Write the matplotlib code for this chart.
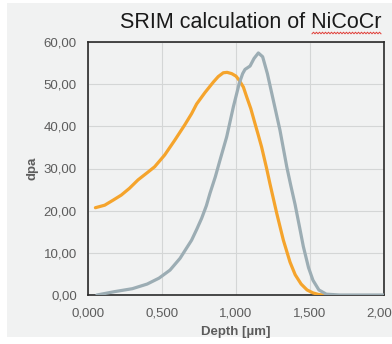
import matplotlib
matplotlib.use("Agg")
import matplotlib.pyplot as plt
from matplotlib.patches import Rectangle
import matplotlib.transforms as mtransforms
import numpy as np

title = "SRIM calculation of NiCoCr"
x_label = "Depth [µm]"
y_label = "dpa"
x_ticks = [0.0, 0.5, 1.0, 1.5, 2.0]
x_tick_labels = ["0,000", "0,500", "1,000", "1,500", "2,00"]
y_ticks = [0, 10, 20, 30, 40, 50, 60]
y_tick_labels = ["0,00", "10,00", "20,00", "30,00", "40,00", "50,00", "60,00"]

orange_x = [0.050, 0.113, 0.17, 0.225, 0.28, 0.338, 0.40, 0.45, 0.518, 0.586, 0.653, 0.70,
            0.734, 0.79, 0.847, 0.88, 0.914, 0.94, 0.971, 1.00, 1.022, 1.05, 1.072, 1.10,
            1.128, 1.150, 1.173, 1.207, 1.23, 1.275, 1.32, 1.365, 1.40, 1.44, 1.48, 1.52,
            1.56, 1.60]
orange_y = [20.7, 21.3, 22.5, 23.7, 25.3, 27.3, 29.0, 30.4, 33.2, 36.7, 40.3, 43.0,
            45.3, 48.0, 50.5, 51.8, 52.7, 52.8, 52.5, 51.9, 50.9, 49.3, 47.0, 44.2,
            40.7, 38.0, 35.1, 30.0, 26.3, 19.4, 13.0, 7.8, 4.8, 2.6, 1.2, 0.5,
            0.1, 0.0]

gray_x = [0.06, 0.18, 0.30, 0.40, 0.48, 0.554, 0.622, 0.66, 0.70, 0.735, 0.768, 0.80, 0.824,
          0.86, 0.892, 0.937, 0.982, 1.022, 1.045, 1.061, 1.095, 1.122, 1.151, 1.18, 1.212,
          1.252, 1.297, 1.343, 1.37, 1.399, 1.43, 1.455, 1.49, 1.52, 1.56, 1.61, 1.70, 1.80,
          2.0]
gray_y = [0.0, 0.8, 1.5, 2.6, 4.0, 5.9, 8.7, 10.8, 13.0, 15.6, 18.2, 21.2, 24.1,
          28.0, 32.0, 37.5, 44.6, 50.2, 52.5, 53.5, 54.3, 56.1, 57.4, 56.5, 52.5,
          46.2, 39.1, 30.4, 26.0, 21.5, 16.0, 11.5, 6.5, 3.5, 1.2, 0.2, 0.0, 0.0,
          0.0]

plt.rcParams["font.family"] = ["Liberation Sans", "DejaVu Sans"]

W, H = 392, 344
fig = plt.figure(figsize=(W / 100, H / 100), dpi=100, facecolor="white")
bg = "#f1f2f2"
fig.patches.append(Rectangle((7 / W, 7 / H), 1 - 7 / W, 1 - 10 / H, transform=fig.transFigure,
                             facecolor=bg, edgecolor="none", zorder=-10))

ax = fig.add_axes([88 / W, 49 / H, 296 / W, 253 / H])
ax.set_facecolor(bg)
ax.plot(orange_x, orange_y, color="#f5a42c", lw=2.3, solid_capstyle="round",
        solid_joinstyle="round", zorder=3)
ax.plot(gray_x, gray_y, color="#9cadb4", lw=2.3, solid_capstyle="round",
        solid_joinstyle="round", zorder=3)

ax.set_xlim(0, 2)
ax.set_ylim(0, 60)
ax.set_xticks(x_ticks)
ax.set_xticklabels(x_tick_labels)
ax.set_yticks(y_ticks)
ax.set_yticklabels(y_tick_labels)
ax.grid(True, color="#d4d6d6", lw=0.8)
ax.set_axisbelow(True)
ax.tick_params(length=0, labelsize=9.5, labelcolor="#5c5c5c")
ax.tick_params(axis="x", pad=9)
ax.tick_params(axis="y", pad=8)
for s in ax.spines.values():
    s.set_color("#2a2a2a")
    s.set_linewidth(1.2)

# last x tick label sits against the right edge of the image
last = ax.get_xticklabels()[-1]
last.set_horizontalalignment("right")
last.set_transform(last.get_transform() + mtransforms.ScaledTranslation(8 / 100, 0, fig.dpi_scale_trans))

ax.set_xlabel(x_label, fontsize=9.5, fontweight="bold", color="#5c5c5c", labelpad=5)
ax.set_ylabel(y_label, fontsize=9.5, fontweight="bold", color="#5c5c5c", labelpad=4)

fig.text(381 / W, 1 - 28 / H, title, ha="right", va="baseline", fontsize=15.5, color="#1a1a1a")

# spell-check style wavy underline under the last word
n = 47
xs = np.linspace(312, 381, n) / W
ys = (H - 33 + np.where(np.arange(n) % 2 == 0, -0.8, 0.8)) / H
fig.add_artist(plt.Line2D(xs, ys, transform=fig.transFigure, color="#e0403a", lw=0.7))

fig.savefig("out.png", dpi=100, facecolor="white")
